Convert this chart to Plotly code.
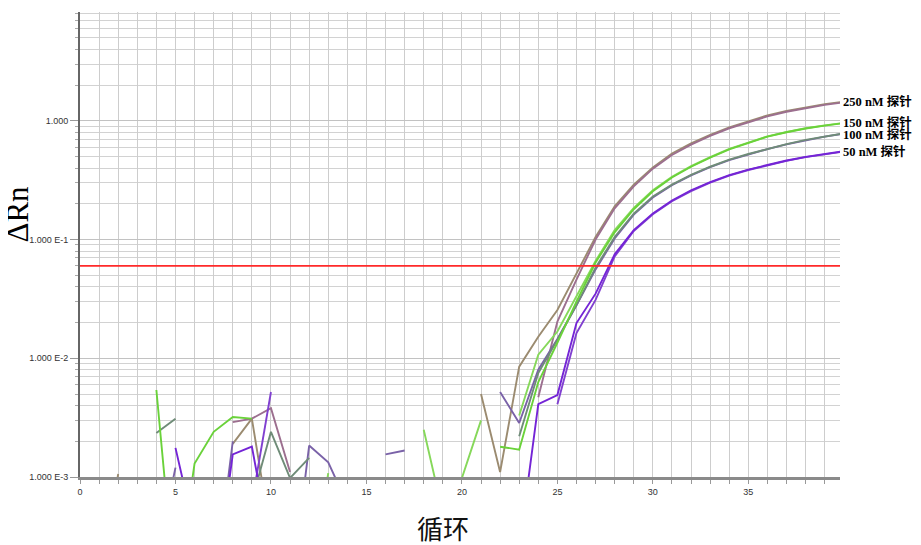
import math
import plotly.graph_objects as go

N = None
cycles = list(range(1, 41))

# 250 nM replicates
tan_250a = [1e-4, 0.00106, N, N, N, N, N, 0.0019, 0.0031, 0.00032,
            N, N, N, N, N, N, N, N, N, N,
            0.005, 0.0011, 0.0085, 0.0152, 0.0255, 0.052, 0.105, 0.19, 0.29, 0.405,
            0.53, 0.645, 0.76, 0.88, 0.99, 1.11, 1.21, 1.30, 1.38, 1.45]
mauve_250b = [N, N, N, N, N, N, N, 0.0029, 0.0031, 0.0038,
              0.0011, N, N, N, N, N, N, N, N, N,
              N, N, N, 0.0047, 0.0204, 0.046, 0.10, 0.183, 0.28, 0.395,
              0.515, 0.63, 0.745, 0.865, 0.975, 1.09, 1.19, 1.28, 1.36, 1.43]
# 150 nM replicates
green_150a = [N, N, N, 0.0054, 1e-4, 0.0013, 0.0024, 0.0032, 0.0031, N,
              N, N, N, N, N, N, N, N, N, N,
              N, 0.0018, 0.0017, 0.0063, 0.0135, 0.030, 0.064, 0.115, 0.18, 0.255,
              0.333, 0.41, 0.49, 0.575, 0.655, 0.735, 0.80, 0.86, 0.91, 0.955]
green_150b = [N, N, N, N, N, N, N, N, N, N,
              N, 1e-4, 0.00108, N, N, N, N, 0.0025, 0.0005, 0.00098,
              0.003, N, 0.0033, 0.0107, 0.0168, 0.033, 0.066, 0.12, 0.185, 0.26,
              0.338, 0.415, 0.495, 0.58, 0.66, 0.74, 0.805, 0.865, 0.915, 0.96]
# 100 nM replicates
gray_100a = [N, N, N, 0.00235, 0.0031, N, N, N, 0.00063, 0.0024,
             0.00098, 0.00145, N, N, N, N, N, N, N, N,
             N, N, 0.0022, 0.0075, 0.0143, 0.028, 0.058, 0.105, 0.165, 0.23,
             0.29, 0.35, 0.41, 0.47, 0.525, 0.58, 0.635, 0.69, 0.74, 0.785]
slate_100b = [N, N, N, 2e-4, 0.0012, N, 1e-4, 0.002, N, N,
              9e-5, 0.00184, 0.00133, 0.00059, N, 0.00155, 0.00167, N, N, N,
              N, 0.0052, 0.00285, 0.008, 0.0145, 0.028, 0.056, 0.102, 0.162, 0.226,
              0.287, 0.347, 0.407, 0.467, 0.522, 0.577, 0.632, 0.685, 0.735, 0.78]
# 50 nM replicates
purple_50a = [N, N, N, N, 0.00176, 0.00035, 1e-4, 0.00155, 0.0018, 0.00025,
              N, N, N, N, N, N, N, N, N, N,
              N, N, 0.00025, 0.0041, 0.0049, 0.0198, 0.035, 0.075, 0.12, 0.166,
              0.213, 0.26, 0.305, 0.348, 0.388, 0.427, 0.463, 0.497, 0.528, 0.555]
purple_50b = [N, N, N, N, N, N, N, N, 0.0006, 0.0052,
              N, N, N, N, N, N, N, N, N, N,
              N, N, N, N, 0.0041, 0.0163, 0.031, 0.072, 0.118, 0.163,
              0.21, 0.256, 0.302, 0.345, 0.385, 0.424, 0.46, 0.494, 0.525, 0.55]

threshold = 0.06
baseline_start, baseline_end = 3, 15

labels = ["250 nM 探针", "150 nM 探针", "100 nM 探针", "50 nM 探针"]
y_tick_vals = [1e-3, 1e-2, 1e-1, 1.0]
y_tick_text = ["1.000 E-3", "1.000 E-2", "1.000 E-1", "1.000"]

series = [
    (tan_250a, "#9b8b70"),
    (mauve_250b, "#9c6f8f"),
    (slate_100b, "#7a62a8"),
    (gray_100a, "#6f8c78"),
    (green_150b, "#86d85a"),
    (green_150a, "#6ad23a"),
    (purple_50b, "#8040d0"),
    (purple_50a, "#7424d6"),
]

fig = go.Figure()
for vals, col in series:
    fig.add_trace(go.Scatter(x=cycles, y=vals, mode="lines",
                             line=dict(color=col, width=1.9),
                             connectgaps=False, showlegend=False,
                             hoverinfo="skip"))

# threshold line
fig.add_trace(go.Scatter(x=[cycles[0] - 1, cycles[-1]], y=[threshold, threshold],
                         mode="lines", line=dict(color="#ff2a2a", width=1.6),
                         showlegend=False, hoverinfo="skip"))

# baseline markers
fig.add_trace(go.Scatter(x=[baseline_start, baseline_end], y=[10 ** -3.04, 10 ** -3.04],
                         mode="markers", cliponaxis=False,
                         marker=dict(symbol=["triangle-se", "triangle-sw"], size=7,
                                     color="#ff1010", line=dict(width=0)),
                         showlegend=False, hoverinfo="skip"))

# x ticks every cycle, labels every 5
x_tickvals = list(range(0, 40))
x_ticktext = [str(v) if v % 5 == 0 else "" for v in x_tickvals]

minor_vals = [k * 10 ** d for d in range(-3, 1) for k in range(2, 10)]

fig.update_xaxes(range=[0, 39.8], tickmode="array", tickvals=x_tickvals,
                 ticktext=x_ticktext, ticks="outside", ticklen=4, tickcolor="#999",
                 showgrid=True, gridcolor="#cdcdcd", gridwidth=1,
                 showline=True, linecolor="#8a8a8a", linewidth=3,
                 tickfont=dict(family="Liberation Sans", size=9, color="#333"),
                 zeroline=False)
fig.update_yaxes(type="log", range=[-3, 0.916], tickmode="array",
                 tickvals=y_tick_vals, ticktext=y_tick_text,
                 ticks="outside", ticklen=8, tickcolor="#999",
                 showgrid=True, gridcolor="#c2c2c2", gridwidth=1,
                 minor=dict(tickvals=minor_vals, ticks="outside", ticklen=3,
                            tickcolor="#aaa", showgrid=True, gridcolor="#d2d2d2",
                            gridwidth=1),
                 showline=True, linecolor="#666", linewidth=2,
                 tickfont=dict(family="Liberation Sans", size=9, color="#333"),
                 zeroline=False)

annotations = []
label_shift = [0, 1, -1, 0]
for lab, vals, sh in zip(labels, [tan_250a, green_150a, gray_100a, purple_50a], label_shift):
    annotations.append(dict(x=1, xref="paper", xanchor="left", xshift=1, yshift=sh,
                            y=math.log10(vals[-1]), yref="y", yanchor="middle",
                            text="<b>" + lab + "</b>", showarrow=False,
                            font=dict(family="Liberation Serif, Noto Sans CJK SC",
                                      size=12.5, color="#000")))
annotations.append(dict(x=-0.082, xref="paper", y=0.566, yref="paper",
                        text="ΔRn", textangle=-90, showarrow=False,
                        xanchor="center", yanchor="middle",
                        font=dict(family="Liberation Serif", size=31, color="#000")))
annotations.append(dict(x=0.477, xref="paper", y=-0.108, yref="paper",
                        text="循环", showarrow=False,
                        xanchor="center", yanchor="middle",
                        font=dict(family="Noto Sans CJK SC", size=26, color="#111")))

# the page body adds an 8px offset, so margins are shifted to compensate
fig.update_layout(width=921, height=545,
                  margin=dict(l=72, r=89, t=4, b=76),
                  paper_bgcolor="white", plot_bgcolor="white",
                  annotations=annotations, showlegend=False)

fig.write_html("out.html")
